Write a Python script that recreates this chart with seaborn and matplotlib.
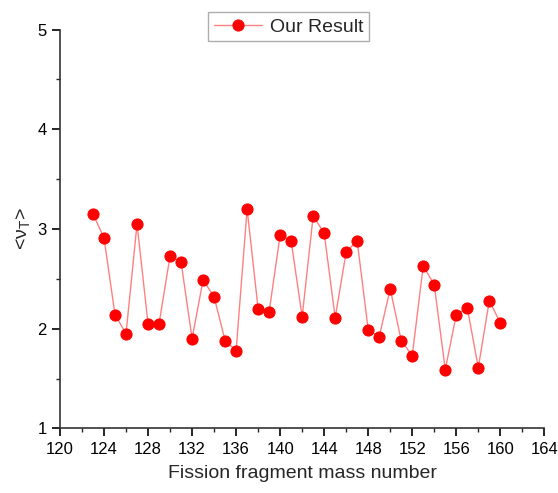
import matplotlib
matplotlib.use("Agg")
import matplotlib.pyplot as plt
import seaborn as sns
import pandas as pd
from matplotlib.ticker import MultipleLocator

# fragment mass numbers and average neutron multiplicity
mass_number = list(range(123, 161))
nu_t = [3.15, 2.91, 2.14, 1.95, 3.05, 2.05, 2.05, 2.73, 2.67, 1.90,
        2.49, 2.32, 1.88, 1.78, 3.20, 2.20, 2.17, 2.94, 2.88, 2.12,
        3.13, 2.96, 2.11, 2.77, 2.88, 1.99, 1.92, 2.40, 1.88, 1.73,
        2.63, 2.44, 1.59, 2.14, 2.21, 1.61, 2.28, 2.06]
series_name = "Our Result"

df = pd.DataFrame({"A": mass_number, "nu": nu_t})

sns.set_style("ticks")
plt.rcParams["font.family"] = ["Liberation Sans", "DejaVu Sans"]
plt.rcParams["mathtext.default"] = "regular"

fig = plt.figure(figsize=(5.58, 4.93), dpi=100)
ax = fig.add_axes([0.1075, 0.131, 0.868, 0.809])

sns.lineplot(data=df, x="A", y="nu", marker="o", markersize=8,
             linewidth=1, color="red", label=series_name, ax=ax)
line = ax.lines[0]
line.set_color("#ff8080")
line.set_markerfacecolor("red")
line.set_markeredgecolor("red")

ax.set_xlim(120, 164)
ax.set_ylim(1, 5)
ax.xaxis.set_major_locator(MultipleLocator(4))
ax.xaxis.set_minor_locator(MultipleLocator(2))
ax.yaxis.set_major_locator(MultipleLocator(1))
ax.yaxis.set_minor_locator(MultipleLocator(0.5))
ax.tick_params(which="major", direction="out", length=6, width=1.2, labelsize=12, colors="black")
ax.tick_params(which="minor", direction="out", length=3, width=1.0)

for s in ["top", "right"]:
    ax.spines[s].set_visible(False)
for s in ["left", "bottom"]:
    ax.spines[s].set_linewidth(1.2)
    ax.spines[s].set_color("#333333")

ax.set_xlabel("Fission fragment mass number", fontsize=14, labelpad=6)
ax.set_ylabel("<ν$_T$>", fontsize=14, labelpad=4)

ax.legend(loc="upper center", bbox_to_anchor=(0.517, 0.995),
          bbox_transform=fig.transFigure, fontsize=14, frameon=True,
          fancybox=False, edgecolor="#999999", borderpad=0.3,
          handlelength=2.5, handletextpad=0.4)

fig.savefig("out.png", dpi=100)
